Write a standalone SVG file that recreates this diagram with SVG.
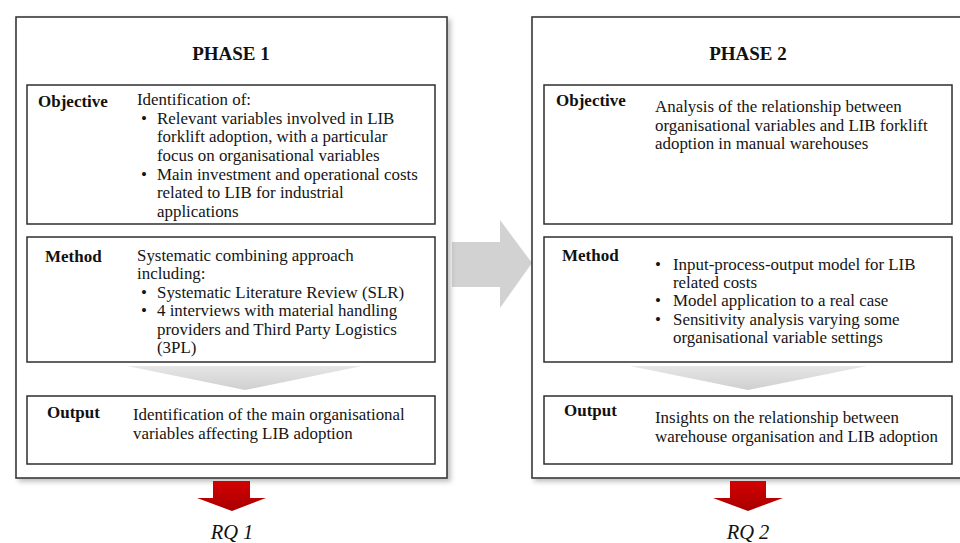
<svg xmlns="http://www.w3.org/2000/svg" width="960" height="543" viewBox="0 0 960 543">
<style>
.outer{fill:#ffffff;stroke:#3a3a3a;stroke-width:1.6}
.box{fill:#ffffff;stroke:#2e2e2e;stroke-width:1.5}
.t{font-family:"Liberation Serif","Times New Roman",serif;font-size:16.9px;fill:#151515}
.lb{font-family:"Liberation Serif","Times New Roman",serif;font-size:17px;font-weight:bold;fill:#111}
.title{font-family:"Liberation Serif","Times New Roman",serif;font-size:19px;font-weight:bold;fill:#111}
.rq{font-family:"Liberation Serif","Times New Roman",serif;font-size:20.5px;font-style:italic;fill:#111}
.chev{fill:url(#chevGrad)}
.red{fill:url(#redGrad)}
</style>
<defs>
<filter id="shadow" x="-5%" y="-5%" width="115%" height="115%">
<feDropShadow dx="3" dy="3" stdDeviation="2.5" flood-color="#000" flood-opacity="0.25"/>
</filter>
<linearGradient id="chevGrad" x1="0" y1="0" x2="0" y2="1">
<stop offset="0" stop-color="#e6e6e6"/>
<stop offset="1" stop-color="#cfcfcf"/>
</linearGradient>
<linearGradient id="redGrad" x1="0" y1="0" x2="0" y2="1">
<stop offset="0" stop-color="#d40000"/>
<stop offset="1" stop-color="#a80000"/>
</linearGradient>
</defs>

<g id="connectors">
<g id="phase-arrow">
<rect x="452" y="242" width="49" height="45" fill="#d2d2d2"/>
<polygon points="500,220 532,263 500,308" fill="#d2d2d2"/>
<polygon points="532,263 506,300 500,308" fill="#f4f4f4"/>
</g>
</g>

<g id="phase1">
<rect class="outer" x="16" y="17" width="431" height="461" filter="url(#shadow)"/>
<text class="title" x="231" y="60" text-anchor="middle">PHASE 1</text>
</g>

<g id="phase2">
<rect class="outer" x="532" y="17" width="440" height="461" filter="url(#shadow)"/>
<text class="title" x="748" y="60" text-anchor="middle">PHASE 2</text>
</g>

<g id="p1-objective">
<rect class="box" x="27" y="85" width="408" height="139"/>
<text class="lb" x="38" y="107">Objective</text>
<text class="t" x="137" y="105">Identification of:</text>
<text class="t" x="141" y="124">•</text>
<text class="t" x="157" y="124">Relevant variables involved in LIB</text>
<text class="t" x="157" y="142">forklift adoption, with a particular</text>
<text class="t" x="157" y="161">focus on organisational variables</text>
<text class="t" x="141" y="180">•</text>
<text class="t" x="157" y="180">Main investment and operational costs</text>
<text class="t" x="157" y="198">related to LIB for industrial</text>
<text class="t" x="157" y="217">applications</text>
</g>

<g id="p1-method">
<rect class="box" x="27" y="237" width="408" height="125"/>
<text class="lb" x="45" y="262">Method</text>
<text class="t" x="137" y="261">Systematic combining approach</text>
<text class="t" x="137" y="279">including:</text>
<text class="t" x="141" y="298">•</text>
<text class="t" x="157" y="298">Systematic Literature Review (SLR)</text>
<text class="t" x="141" y="316">•</text>
<text class="t" x="157" y="316">4 interviews with material handling</text>
<text class="t" x="157" y="335">providers and Third Party Logistics</text>
<text class="t" x="157" y="353">(3PL)</text>
</g>

<g id="p1-chevron">
<polygon class="chev" points="127,366 362,366 245,390"/>
</g>

<g id="p1-output">
<rect class="box" x="27" y="396" width="408" height="68"/>
<text class="lb" x="47" y="418">Output</text>
<text class="t" x="133" y="420">Identification of the main organisational</text>
<text class="t" x="133" y="439">variables affecting LIB adoption</text>
</g>

<g id="p2-objective">
<rect class="box" x="544" y="85" width="408" height="139"/>
<text class="lb" x="556" y="106">Objective</text>
<text class="t" x="655" y="112">Analysis of the relationship between</text>
<text class="t" x="655" y="131">organisational variables and LIB forklift</text>
<text class="t" x="655" y="149">adoption in manual warehouses</text>
</g>

<g id="p2-method">
<rect class="box" x="544" y="237" width="408" height="125"/>
<text class="lb" x="562" y="261">Method</text>
<text class="t" x="655" y="270">•</text>
<text class="t" x="673" y="270">Input-process-output model for LIB</text>
<text class="t" x="673" y="288">related costs</text>
<text class="t" x="655" y="306">•</text>
<text class="t" x="673" y="306">Model application to a real case</text>
<text class="t" x="655" y="325">•</text>
<text class="t" x="673" y="325">Sensitivity analysis varying some</text>
<text class="t" x="673" y="343">organisational variable settings</text>
</g>

<g id="p2-chevron">
<polygon class="chev" points="630,366 867,366 748,390"/>
</g>

<g id="p2-output">
<rect class="box" x="544" y="396" width="408" height="68"/>
<text class="lb" x="564" y="416">Output</text>
<text class="t" x="655" y="423">Insights on the relationship between</text>
<text class="t" x="655" y="442">warehouse organisation and LIB adoption</text>
</g>

<g id="rq1">
<polygon class="red" points="213,481 250,481 250,498 266,498 232,511 197,498 213,498"/>
<text class="rq" x="232" y="539" text-anchor="middle">RQ 1</text>
</g>

<g id="rq2">
<polygon class="red" points="730,481 766,481 766,498 783,498 748,511 713,498 730,498"/>
<text class="rq" x="748" y="539" text-anchor="middle">RQ 2</text>
</g>
</svg>
